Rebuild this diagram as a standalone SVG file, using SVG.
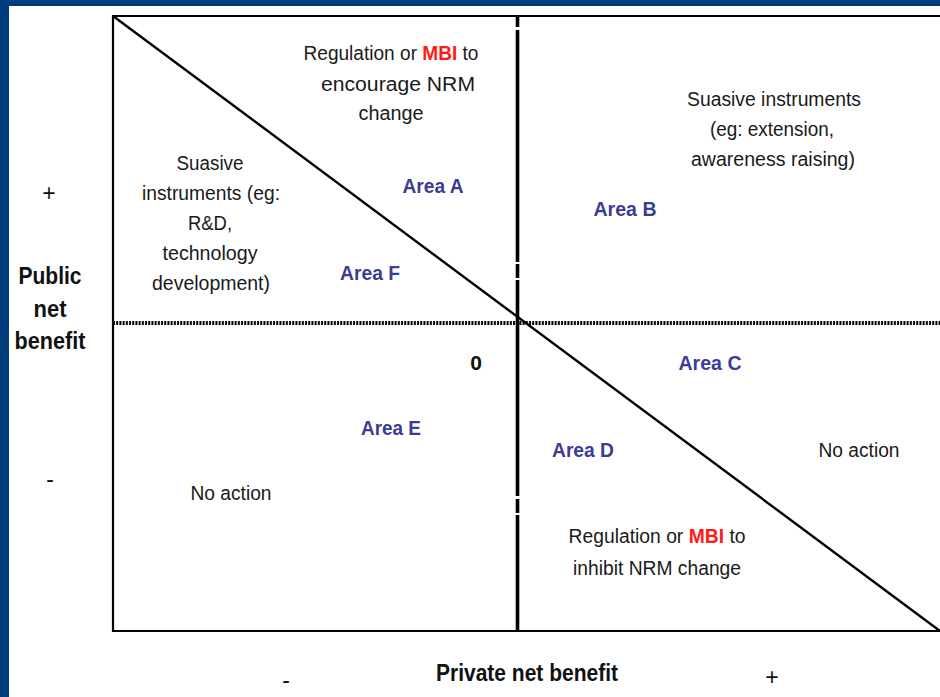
<svg xmlns="http://www.w3.org/2000/svg" width="940" height="697" viewBox="0 0 940 697">
  <style>
    text { font-family: "Liberation Sans Narrow", "Liberation Sans", Arial, sans-serif; text-anchor: middle; }
    .t { font-size: 19.5px; fill: #1a1a1a; }
    .area { font-size: 21px; font-weight: bold; fill: #3c3c96; }
    .lab { font-size: 23px; font-weight: bold; fill: #111; }
    .sign { font-size: 23px; fill: #111; }
    .mbi { fill: #ff1a1a; font-weight: bold; }
  </style>

  <!-- frame -->
  <rect x="0" y="0" width="940" height="697" fill="#003d7d"/>
  <rect x="9" y="6" width="931" height="691" fill="#ffffff"/>

  <!-- axes and dividing lines -->
  <g id="connectors" fill="none" stroke="#000">
    <polyline points="940,16 113,16 113,631 940,631" stroke-width="2.2"/>
    <line x1="113" y1="16" x2="940" y2="631" stroke-width="2.4"/>
    <line x1="113" y1="323" x2="940" y2="323" stroke-width="4" stroke-dasharray="2 1.2"/>
    <line x1="517.5" y1="16" x2="517.5" y2="631" stroke-width="3.6" stroke-dasharray="11 3 232 2 14 2 216 3 14 2 200"/>
  </g>

  <!-- quadrant texts -->
  <g id="reg-encourage">
    <text class="t" x="391" y="60" textLength="175" lengthAdjust="spacingAndGlyphs">Regulation or <tspan class="mbi">MBI</tspan> to</text>
    <text class="t" x="398" y="91" textLength="154" lengthAdjust="spacingAndGlyphs">encourage NRM</text>
    <text class="t" x="391" y="120" textLength="65" lengthAdjust="spacingAndGlyphs">change</text>
  </g>
  <g id="suasive-right">
    <text class="t" x="774" y="106" textLength="174" lengthAdjust="spacingAndGlyphs">Suasive instruments</text>
    <text class="t" x="772" y="136" textLength="124" lengthAdjust="spacingAndGlyphs">(eg: extension,</text>
    <text class="t" x="773" y="166" textLength="164" lengthAdjust="spacingAndGlyphs">awareness raising)</text>
  </g>
  <g id="suasive-left">
    <text class="t" x="210" y="170" textLength="67" lengthAdjust="spacingAndGlyphs">Suasive</text>
    <text class="t" x="211" y="200" textLength="138" lengthAdjust="spacingAndGlyphs">instruments (eg:</text>
    <text class="t" x="210" y="230" textLength="44" lengthAdjust="spacingAndGlyphs">R&amp;D,</text>
    <text class="t" x="210" y="260" textLength="95" lengthAdjust="spacingAndGlyphs">technology</text>
    <text class="t" x="211" y="290" textLength="118" lengthAdjust="spacingAndGlyphs">development)</text>
  </g>
  <g id="reg-inhibit">
    <text class="t" x="657" y="543" textLength="177" lengthAdjust="spacingAndGlyphs">Regulation or <tspan class="mbi">MBI</tspan> to</text>
    <text class="t" x="657" y="575" textLength="168" lengthAdjust="spacingAndGlyphs">inhibit NRM change</text>
  </g>
  <g id="no-action-left"><text class="t" x="231" y="500" textLength="81" lengthAdjust="spacingAndGlyphs">No action</text></g>
  <g id="no-action-right"><text class="t" x="859" y="457" textLength="81" lengthAdjust="spacingAndGlyphs">No action</text></g>

  <!-- areas -->
  <g id="area-a"><text class="area" x="433" y="193" textLength="61" lengthAdjust="spacingAndGlyphs">Area A</text></g>
  <g id="area-b"><text class="area" x="625" y="216" textLength="63" lengthAdjust="spacingAndGlyphs">Area B</text></g>
  <g id="area-c"><text class="area" x="710" y="370" textLength="63" lengthAdjust="spacingAndGlyphs">Area C</text></g>
  <g id="area-d"><text class="area" x="583" y="457" textLength="62" lengthAdjust="spacingAndGlyphs">Area D</text></g>
  <g id="area-e"><text class="area" x="391" y="435" textLength="60" lengthAdjust="spacingAndGlyphs">Area E</text></g>
  <g id="area-f"><text class="area" x="370" y="280" textLength="60" lengthAdjust="spacingAndGlyphs">Area F</text></g>
  <g id="origin"><text class="area" style="fill:#111" x="476" y="370">0</text></g>

  <!-- axis labels -->
  <g id="y-axis">
    <text class="sign" x="49" y="201">+</text>
    <text class="lab" x="50" y="284" textLength="63" lengthAdjust="spacingAndGlyphs">Public</text>
    <text class="lab" x="50" y="317" textLength="33" lengthAdjust="spacingAndGlyphs">net</text>
    <text class="lab" x="50" y="349" textLength="71" lengthAdjust="spacingAndGlyphs">benefit</text>
    <text class="sign" x="50" y="487">-</text>
  </g>
  <g id="x-axis">
    <text class="lab" x="527" y="681" textLength="182" lengthAdjust="spacingAndGlyphs">Private net benefit</text>
    <text class="sign" x="286" y="688">-</text>
    <text class="sign" x="772" y="685">+</text>
  </g>
</svg>
